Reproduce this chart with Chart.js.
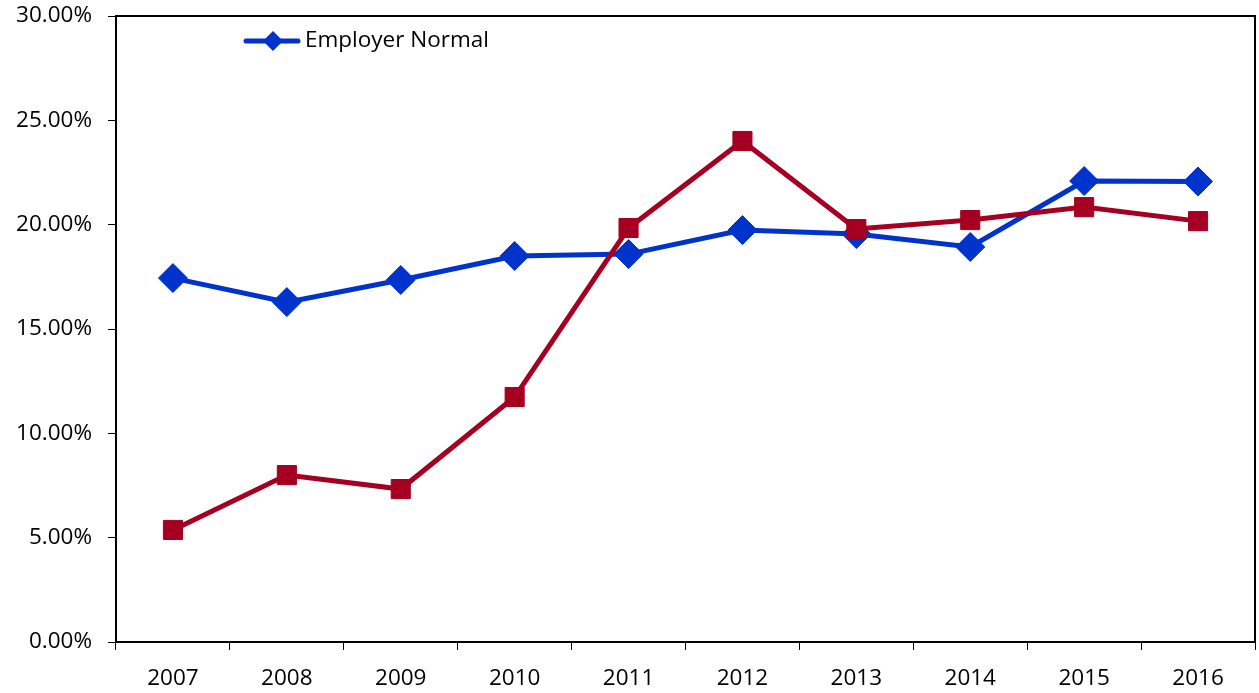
<!DOCTYPE html>
<html>
<head>
<meta charset="utf-8">
<script src="https://cdn.jsdelivr.net/npm/chart.js@4.4.1/dist/chart.umd.min.js"></script>
<style>
  html, body { margin: 0; padding: 0; background: #fff; overflow: hidden; }
  #wrap { width: 1259px; height: 693px; position: relative; overflow: hidden; }
  canvas { display: block; }
</style>
</head>
<body>
<div id="wrap"><canvas id="c" width="1259" height="693"></canvas></div>
<script>
const categories = ['2007','2008','2009','2010','2011','2012','2013','2014','2015','2016'];
const employerNormal = [17.44, 16.29, 17.35, 18.50, 18.59, 19.74, 19.55, 18.93, 22.09, 22.07];
const secondSeries = [5.37, 8.00, 7.33, 11.74, 19.84, 24.01, 19.79, 20.22, 20.84, 20.17];
const legendLabel = 'Employer Normal';
const yTicks = [0, 5, 10, 15, 20, 25, 30];

const BLUE = '#0033CC';
const RED = '#A50021';
const FONT = "'Open Sans', 'Liberation Sans', sans-serif";

const frame = {
  id: 'frame',
  afterDatasetsDraw(chart) {
    const a = chart.chartArea, ctx = chart.ctx;
    ctx.save();
    ctx.strokeStyle = '#000';
    ctx.lineWidth = 2;
    ctx.strokeRect(a.left, a.top, a.right - a.left, a.bottom - a.top);
    ctx.restore();
  },
  afterDraw(chart) {
    const a = chart.chartArea, ctx = chart.ctx;
    const x0 = a.left + 130, y0 = a.top + 25;
    ctx.save();
    ctx.strokeStyle = BLUE;
    ctx.lineWidth = 5;
    ctx.lineCap = 'round';
    ctx.beginPath();
    ctx.moveTo(x0, y0);
    ctx.lineTo(x0 + 52, y0);
    ctx.stroke();
    ctx.fillStyle = BLUE;
    const cx = x0 + 27, h = 10;
    ctx.beginPath();
    ctx.moveTo(cx - h, y0); ctx.lineTo(cx, y0 - h); ctx.lineTo(cx + h, y0); ctx.lineTo(cx, y0 + h);
    ctx.closePath(); ctx.fill();
    ctx.fillStyle = '#000';
    ctx.font = '22.5px ' + FONT;
    ctx.textBaseline = 'middle';
    ctx.textAlign = 'left';
    ctx.fillText(legendLabel, x0 + 59, y0);
    ctx.restore();
  }
};

new Chart(document.getElementById('c'), {
  type: 'line',
  data: {
    labels: categories,
    datasets: [
      {
        label: legendLabel,
        data: employerNormal,
        borderColor: BLUE,
        backgroundColor: BLUE,
        borderWidth: 5,
        pointStyle: 'rectRot',
        pointRadius: 14.5,
        pointBorderWidth: 1,
        pointHoverRadius: 14.5,
        tension: 0,
        order: 1
      },
      {
        label: 'Series 2',
        data: secondSeries,
        borderColor: RED,
        backgroundColor: RED,
        borderWidth: 5,
        pointStyle: 'rect',
        pointRadius: 13.5,
        pointBorderWidth: 1,
        pointHoverRadius: 13.5,
        tension: 0,
        order: 0
      }
    ]
  },
  options: {
    responsive: false,
    animation: false,
    devicePixelRatio: 1,
    layout: { autoPadding: false, padding: { top: 16, right: 4, left: 0, bottom: 0 } },
    plugins: { legend: { display: false }, tooltip: { enabled: false } },
    scales: {
      x: {
        offset: true,
        grid: { offset: true, drawOnChartArea: false, drawTicks: true, tickLength: 8, color: '#000', lineWidth: 1 },
        border: { display: true, color: '#000', width: 2 },
        ticks: { color: '#000', font: { family: FONT, size: 22.5 }, padding: 15, maxRotation: 0 },
        afterFit(s) { s.height = 51; s.paddingLeft = 0; s.paddingRight = 0; }
      },
      y: {
        min: 0, max: 30,
        afterBuildTicks(s) { s.ticks = yTicks.map(v => ({ value: v })); },
        grid: { drawOnChartArea: false, drawTicks: true, tickLength: 8, color: '#000', lineWidth: 1 },
        border: { display: true, color: '#000', width: 2 },
        ticks: { color: '#000', font: { family: FONT, size: 22.5 }, padding: 16, callback: v => Number(v).toFixed(2) + '%' },
        afterFit(s) { s.width = 116; s.paddingTop = 0; s.paddingBottom = 0; }
      }
    }
  },
  plugins: [frame]
});
</script>
</body>
</html>
